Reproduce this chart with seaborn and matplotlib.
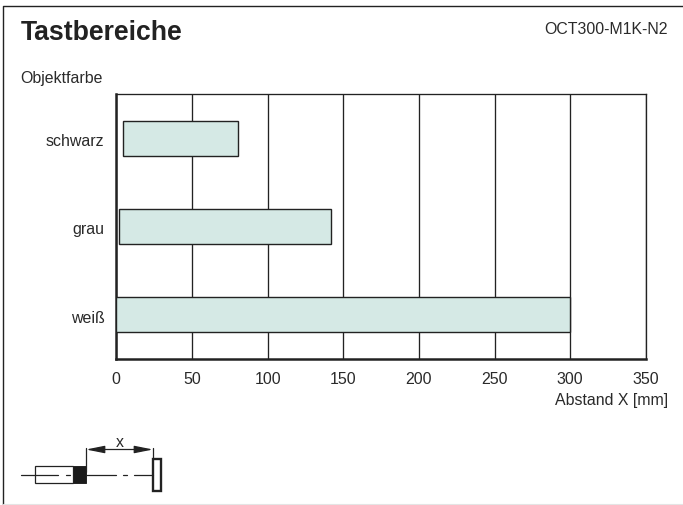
import matplotlib
matplotlib.use("Agg")
import matplotlib.pyplot as plt
from matplotlib.patches import Rectangle
from matplotlib.transforms import ScaledTranslation
import seaborn as sns
import pandas as pd

categories = ["schwarz", "grau", "weiß"]
range_start = [4.5, 1.5, 0]
range_end = [80.5, 142, 300]
x_ticks = [0, 50, 100, 150, 200, 250, 300, 350]

W, H = 683, 505
sns.set_style("white")
plt.rcParams["font.family"] = ["Liberation Sans", "DejaVu Sans"]
INK = "#222222"
TXT = "#2a2a2a"
fig = plt.figure(figsize=(W / 100, H / 100), dpi=100, facecolor="white")
ax = fig.add_axes([116.3 / W, 1 - 359 / H, (645.8 - 116.3) / W, (359 - 94) / H])

df = pd.DataFrame({"farbe": categories, "ende": range_end})
sns.barplot(data=df, x="ende", y="farbe", ax=ax, color="#d5e9e5", saturation=1,
            width=0.397, edgecolor=INK, linewidth=1.0, zorder=3)
for patch, start, end in zip(ax.patches, range_start, range_end):
    patch.set_x(start)
    patch.set_width(end - start)

ax.set_xlim(0, 350)
ax.set_xticks(x_ticks)
ax.set_xlabel("")
ax.set_ylabel("")
ax.xaxis.grid(True, color=INK, linewidth=0.95, zorder=1)
ax.yaxis.grid(False)
ax.set_axisbelow(True)
ax.tick_params(axis="both", length=0, labelsize=11.5, labelcolor=TXT)
ax.tick_params(axis="x", pad=9.5)
ax.tick_params(axis="y", pad=8.5)
for label in ax.get_yticklabels():
    label.set_transform(label.get_transform() + ScaledTranslation(0, -2 / 100, fig.dpi_scale_trans))
for side, lw in dict(left=1.8, bottom=1.8, top=0.95, right=0.95).items():
    ax.spines[side].set_visible(True)
    ax.spines[side].set_linewidth(lw)
    ax.spines[side].set_color(INK)

# overlay in pixel coordinates
ov = fig.add_axes([0, 0, 1, 1], zorder=5)
ov.set_xlim(0, W)
ov.set_ylim(H, 0)
ov.axis("off")
ov.patch.set_alpha(0)

ov.plot([3, 3, W], [H, 6, 6], color=INK, lw=1.0)
ov.plot([3, W], [504, 504], color="#e4e4e4", lw=0.8)
ov.text(21, 33.5, "Tastbereiche", fontsize=19.2, fontweight="bold", color=INK, va="center", ha="left")
ov.text(668, 29.5, "OCT300-M1K-N2", fontsize=11.4, color=TXT, va="center", ha="right")
ov.text(20, 79, "Objektfarbe", fontsize=11.4, color=TXT, va="center", ha="left")
ov.text(668, 401, "Abstand X [mm]", fontsize=11.4, color=TXT, va="center", ha="right")

# sensor sketch
ov.plot([21, 58], [474.7, 474.7], color=INK, lw=0.9, zorder=3)
ov.add_patch(Rectangle((35, 465.7), 38, 17.5, fc="none", ec=INK, lw=0.9))
ov.add_patch(Rectangle((73, 465.7), 13, 17.5, fc="#1a1a1a", ec=INK, lw=0.7))
ov.add_patch(Rectangle((153, 458.5), 8, 32.5, fc="white", ec=INK, lw=1.7))
ov.plot([66, 70], [474.7, 474.7], color=INK, lw=0.9)
ov.plot([86, 115.5], [474.7, 474.7], color=INK, lw=0.9)
ov.plot([123, 127], [474.7, 474.7], color=INK, lw=0.9)
ov.plot([134, 153], [474.7, 474.7], color=INK, lw=0.9)
ov.plot([86, 86], [447.5, 472], color=INK, lw=0.9)
ov.plot([153, 153], [447.5, 458], color=INK, lw=0.9)
ov.annotate("", xy=(86, 449.5), xytext=(153, 449.5),
            arrowprops=dict(arrowstyle="<|-|>,head_length=0.8,head_width=0.16", color=INK, lw=0.9,
                            mutation_scale=14, shrinkA=0, shrinkB=0))
ov.text(119.5, 442.5, "x", fontsize=11.4, color=TXT, ha="center", va="center")

fig.savefig("out.png", dpi=100, facecolor="white")
